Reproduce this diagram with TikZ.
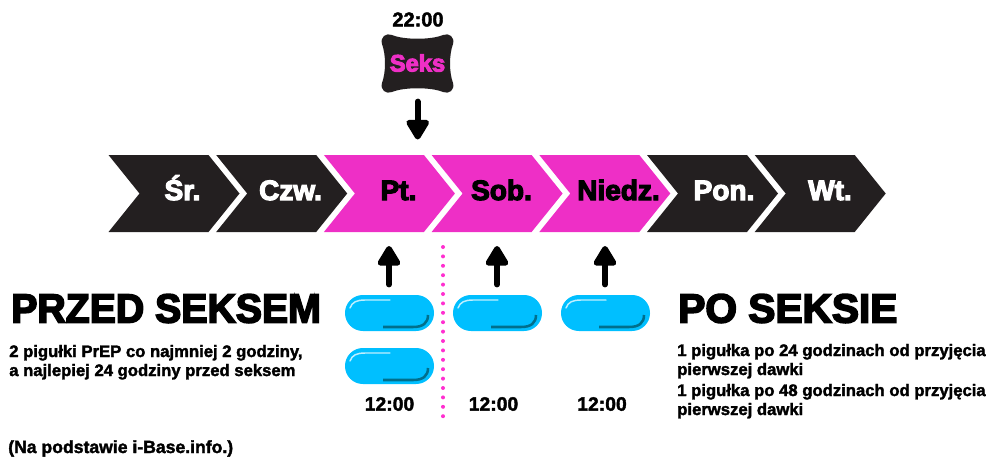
\documentclass[tikz,border=0pt]{standalone}
\usepackage{fontspec}
\setmainfont{Liberation Sans}[BoldFeatures={FakeBold=2}]
\newfontfamily\heavy{Liberation Sans}[BoldFeatures={FakeBold=4.2}]
\usetikzlibrary{arrows.meta}
\definecolor{ink}{HTML}{231F20}
\definecolor{mag}{HTML}{EE2FC6}
\definecolor{dotpink}{HTML}{FF2FD0}
\definecolor{cyn}{HTML}{00BFFF}
\definecolor{cyd}{HTML}{006F8C}
\tikzset{
  x=0.75pt,y=-0.75pt,
  daylabel/.style={font=\heavy\fontsize{21}{22}\selectfont\bfseries,anchor=base,inner sep=0pt},
  arrowline/.style={line width=4.3pt,line cap=round,-{Triangle[length=17pt,width=19pt,round]},black},
  timelabel/.style={font=\fontsize{14.5}{15}\selectfont\bfseries,inner sep=0pt,black},
  bigtitle/.style={font=\heavy\fontsize{30.5}{32}\selectfont\bfseries,inner sep=0pt,anchor=base west,black},
  bodytext/.style={font=\fontsize{12.5}{14}\selectfont\bfseries,inner sep=0pt,anchor=base west,black},
}
\newcommand{\chev}[5]{%
  \fill[#2] (#1,155) -- (#1+100,155) -- (#1+131,193.5) -- (#1+100,232) -- (#1,232) -- (#1+31,193.5) -- cycle;
  \node[daylabel,text=#4] at (#5,200) {#3};}
\newcommand{\pill}[2]{%
  \fill[cyn,rounded corners=13.4pt] (#1,#2) rectangle (#1+89,#2+36);
  \draw[white!75!cyn,line width=1.1pt,line cap=round] (#1+5,#2+13) .. controls (#1+7,#2+7) and (#1+12,#2+5) .. (#1+20,#2+5) -- (#1+45,#2+5);
  \draw[cyd,line width=1.9pt] (#1+38,#2+32) -- (#1+68,#2+32) .. controls (#1+78,#2+32) and (#1+83,#2+28) .. (#1+83,#2+20);}
\begin{document}
\begin{tikzpicture}
\useasboundingbox (0,0) rectangle (987,457);
\chev{108.5}{ink}{Śr.}{white}{182.5}
\chev{216.2}{ink}{Czw.}{white}{290.5}
\chev{323.9}{mag}{Pt.}{black}{398.5}
\chev{431.6}{mag}{Sob.}{black}{501.5}
\chev{539.3}{mag}{Niedz.}{black}{618.5}
\chev{647}{ink}{Pon.}{white}{724}
\chev{754.7}{ink}{Wt.}{white}{830}
% Seks badge
\node[timelabel,font=\fontsize{15}{16}\selectfont\bfseries] (t22) at (418,19.5) {22:00};
\fill[ink] (392,35) .. controls (404,40) and (431,40) .. (443,35)
  .. controls (449,32.5) and (455,37) .. (453,44)
  .. controls (449,55) and (449,72) .. (453,83)
  .. controls (455,90) and (449,94.5) .. (443,92)
  .. controls (431,87) and (404,87) .. (392,92)
  .. controls (386,94.5) and (380,90) .. (382,83)
  .. controls (386,72) and (386,55) .. (382,44)
  .. controls (380,37) and (386,32.5) .. (392,35) -- cycle;
\node[font=\heavy\fontsize{17.8}{19}\selectfont\bfseries,text=mag,inner sep=0pt] (seks) at (417.5,63) {Seks};
\coordinate (a0) at (417.7,101.5);
\coordinate (a1) at (417.7,139.5);
\draw[arrowline] (a0) -- (a1);
% up arrows
\foreach \n/\x in {p/389,s/497,n/605}{
  \coordinate (\n0) at (\x,284.5);
  \coordinate (\n1) at (\x,246);
  \draw[arrowline] (\n0) -- (\n1);
}
% pills
\pill{345}{295}
\pill{345}{348}
\pill{453}{295}
\pill{561}{295}
% dotted divider
\foreach \i in {0,...,18}{\fill[dotpink] (443,247+9.4*\i) circle[radius=2];}
% times
\node[timelabel] (t1) at (389.5,404) {12:00};
\node[timelabel] (t2) at (493.5,404) {12:00};
\node[timelabel] (t3) at (602,404) {12:00};
% left text
\node[bigtitle,xscale=0.965] (pre) at (11,322.5) {PRZED SEKSEM};
\node[bodytext] (l1) at (9,357) {2 pigułki PrEP co najmniej 2 godziny,};
\node[bodytext] (l2) at (9,376) {a najlepiej 24 godziny przed seksem};
\node[bodytext,font=\fontsize{13.2}{15}\selectfont\bfseries] (src) at (8,453) {(Na podstawie i-Base.info.)};
% right text
\node[bigtitle] (po) at (678,322.5) {PO SEKSIE};
\node[bodytext] (r1) at (677,356) {1 pigułka po 24 godzinach od przyjęcia};
\node[bodytext] (r2) at (677,375) {pierwszej dawki};
\node[bodytext] (r3) at (677,396) {1 pigułka po 48 godzinach od przyjęcia};
\node[bodytext] (r4) at (677,415) {pierwszej dawki};
\end{tikzpicture}
\end{document}
